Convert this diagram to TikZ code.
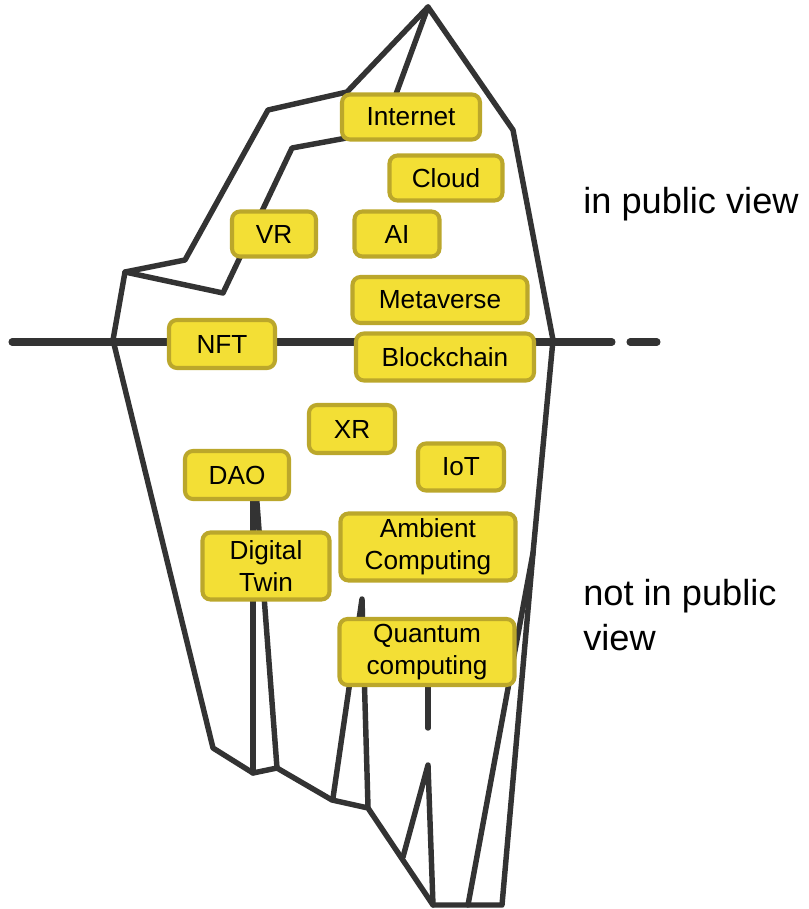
\documentclass[tikz,border=0pt]{standalone}
\usepackage{fontspec}
\setmainfont{Liberation Sans}
\usepackage{tikz}
\usetikzlibrary{backgrounds}
\definecolor{bergline}{HTML}{333333}
\definecolor{topicfill}{HTML}{F3DF35}
\definecolor{topicedge}{HTML}{BBA72B}
\tikzset{
  topic/.style={rectangle, draw=topicedge, fill=topicfill, line width=2.3pt,
                rounded corners=0.16cm, align=center, inner sep=0pt,
                font=\fontsize{14.9}{18.1}\selectfont},
  boxsize/.style 2 args={minimum width=#1*0.02cm, minimum height=#2*0.02cm},
  note/.style={align=left, inner sep=0pt, font=\fontsize{20.6}{25.5}\selectfont},
  berg/.style={draw=bergline, line width=3.1pt, line join=round, line cap=round},
  water/.style={draw=bergline, line width=4pt, line cap=round},
}
\begin{document}
\begin{tikzpicture}[x=0.02cm, y=-0.02cm]
  \useasboundingbox (0,0) rectangle (808,909);

  % Above the water line
  \node[topic, boxsize={138}{45}] (internet)   at (411,117) {Internet};
  \node[topic, boxsize={113}{45}] (cloud)      at (446,178) {Cloud};
  \node[topic, boxsize={84}{45}]  (vr)         at (274,234) {VR};
  \node[topic, boxsize={85}{45}]  (ai)         at (397,234) {AI};
  \node[topic, boxsize={175}{46}] (metaverse)  at (440,300) {Metaverse};

  % On the water line
  \node[topic, boxsize={106}{48}] (nft)        at (222,344) {NFT};
  \node[topic, boxsize={178}{47}] (blockchain) at (445,357) {Blockchain};

  % Below the water line
  \node[topic, boxsize={86}{48}]  (xr)         at (352,429) {XR};
  \node[topic, boxsize={86}{47}]  (iot)        at (461,467) {IoT};
  \node[topic, boxsize={104}{48}] (dao)        at (237,475) {DAO};
  \node[topic, boxsize={127}{67}] (twin)       at (266,566) {Digital\\Twin};
  \node[topic, boxsize={175}{67}] (ambient)    at (428,547) {Ambient\\Computing};
  \node[topic, boxsize={175}{66}] (quantum)    at (427,652) {Quantum\\computing};

  % Side notes
  \node[note, anchor=base west] (above) at (583,213) {in public view};
  \node[note, anchor=north west] (below) at (583,579) {not in public\\view};

  % Iceberg and water behind the boxes
  \begin{scope}[on background layer]
    \draw[water] (12,342) -- (612,342);
    \draw[water] (630,342) -- (657,342);
    \draw[berg] (428,7) -- (347,92) -- (268,110) -- (185,260) -- (125,272)
      -- (113,340) -- (213,748) -- (253,773) -- (277,768) -- (332,800)
      -- (368,808) -- (433,905) -- (502,905) -- (533,553) -- (553,340)
      -- (513,130) -- cycle;
    \draw[berg] (428,7) -- (392,105);
    \draw[berg] (352,137) -- (292,148) -- (223,293) -- (125,272);
    \draw[berg] (253,490) -- (253,773);
    \draw[berg] (256,490) -- (277,768);
    \draw[berg] (333,798) -- (362,599) -- (368,807);
    \draw[berg] (quantum.south) ++(1,0) -- (428,728);
    \draw[berg] (403,857) -- (428,765) -- (433,905);
    \draw[berg] (468,905) -- (533,553);
  \end{scope}

\end{tikzpicture}
\end{document}
